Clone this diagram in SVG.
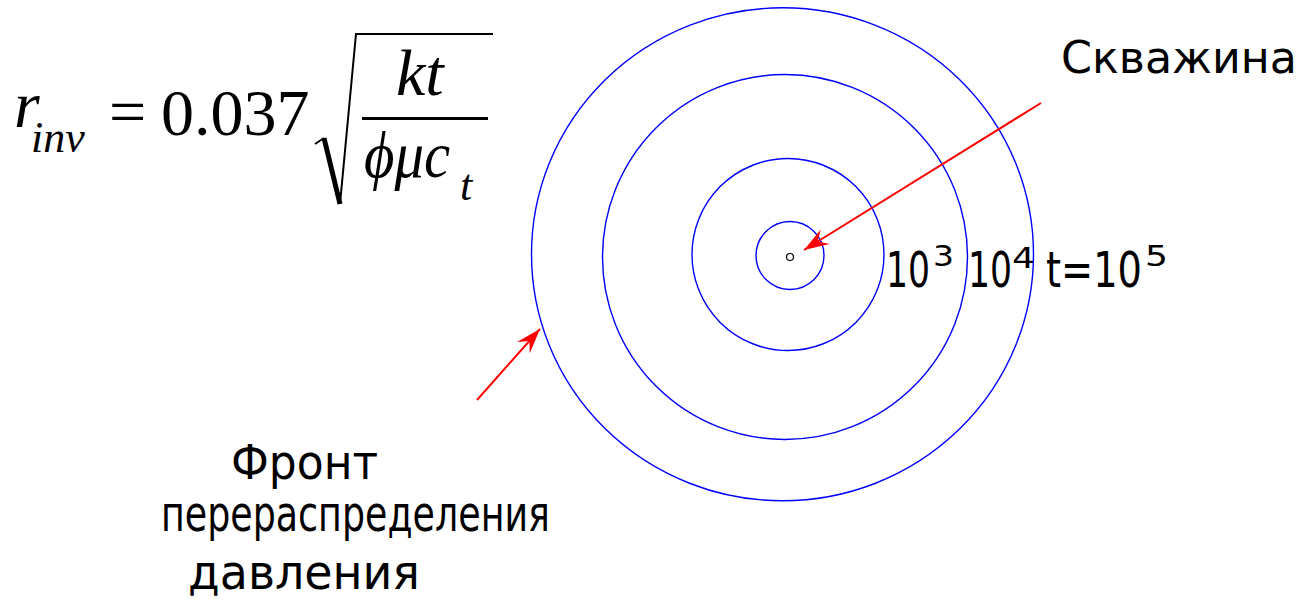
<svg xmlns="http://www.w3.org/2000/svg" width="1303" height="607" viewBox="0 0 1303 607">
<style>
.ring{fill:none;stroke:#0000ff;stroke-width:1.4}
.lbl{font-family:"DejaVu Sans","Liberation Sans",sans-serif;fill:#000}
.m{font-family:"Liberation Serif","DejaVu Serif",serif;fill:#000}
.it{font-style:italic}
.arr{fill:none;stroke:#ff0000;stroke-width:2}
</style>
<defs>
<marker id="ah" markerUnits="userSpaceOnUse" markerWidth="30" markerHeight="20" viewBox="-26 -10 28 20" refX="0" refY="0" orient="auto">
<path d="M0,0 L-25,-8.5 L-16,0 L-25,8.5 Z" fill="#ff0000"/>
</marker>
</defs>
<rect width="1303" height="607" fill="#fff"/>

<g id="formula">
<text class="m it" x="14" y="127" font-size="66">r</text>
<text class="m it" x="31" y="152" font-size="44">inv</text>
<text class="m" x="109" y="134" font-size="66">=</text>
<text class="m" x="161" y="135" font-size="66">0.037</text>
<path d="M315,144 L324,138" stroke="#000" stroke-width="2" fill="none"/>
<path d="M324,138 L340,204" stroke="#000" stroke-width="5" fill="none"/>
<path d="M340,204 L356,34 L493,34" stroke="#000" stroke-width="2" fill="none"/>
<text class="m it" x="396" y="95" font-size="66">kt</text>
<rect x="362" y="117" width="126" height="3" fill="#000"/>
<text class="m it" x="364" y="177" font-size="66" textLength="86" lengthAdjust="spacingAndGlyphs">ϕμc</text>
<text class="m it" x="460" y="200" font-size="44">t</text>
</g>

<g id="rings">
<ellipse class="ring" cx="782.5" cy="254.3" rx="251" ry="246.5"/>
<circle class="ring" cx="785" cy="257" r="182.5"/>
<circle class="ring" cx="788" cy="254.5" r="96"/>
<circle class="ring" cx="790" cy="255.5" r="34"/>
</g>

<g id="well">
<circle cx="790" cy="257" r="3.5" fill="#fff" stroke="#000" stroke-width="1.2"/>
</g>

<g id="connectors">
<line class="arr" x1="1041" y1="103" x2="804" y2="250" marker-end="url(#ah)"/>
<line class="arr" x1="477" y1="400" x2="540" y2="329" marker-end="url(#ah)"/>
</g>

<g id="label-well">
<text class="lbl" x="1061" y="73" font-size="44" textLength="236" lengthAdjust="spacingAndGlyphs">Скважина</text>
</g>

<g id="label-front">
<text class="lbl" x="231" y="479" font-size="48" textLength="147" lengthAdjust="spacingAndGlyphs">Фронт</text>
<text class="lbl" x="161" y="531" font-size="50" textLength="389" lengthAdjust="spacingAndGlyphs">перераспределения</text>
<text class="lbl" x="188" y="589" font-size="48" textLength="232" lengthAdjust="spacingAndGlyphs">давления</text>
</g>

<g id="label-times">
<text class="lbl" x="886" y="287" font-size="49" textLength="44" lengthAdjust="spacingAndGlyphs">10</text>
<text class="lbl" x="933" y="266" font-size="29" textLength="21" lengthAdjust="spacingAndGlyphs">3</text>
<text class="lbl" x="968" y="287" font-size="49" textLength="44" lengthAdjust="spacingAndGlyphs">10</text>
<text class="lbl" x="1012" y="268" font-size="29" textLength="23" lengthAdjust="spacingAndGlyphs">4</text>
<text class="lbl" x="1046" y="287" font-size="49" textLength="96" lengthAdjust="spacingAndGlyphs">t=10</text>
<text class="lbl" x="1145" y="266" font-size="29" textLength="23" lengthAdjust="spacingAndGlyphs">5</text>
</g>
</svg>
